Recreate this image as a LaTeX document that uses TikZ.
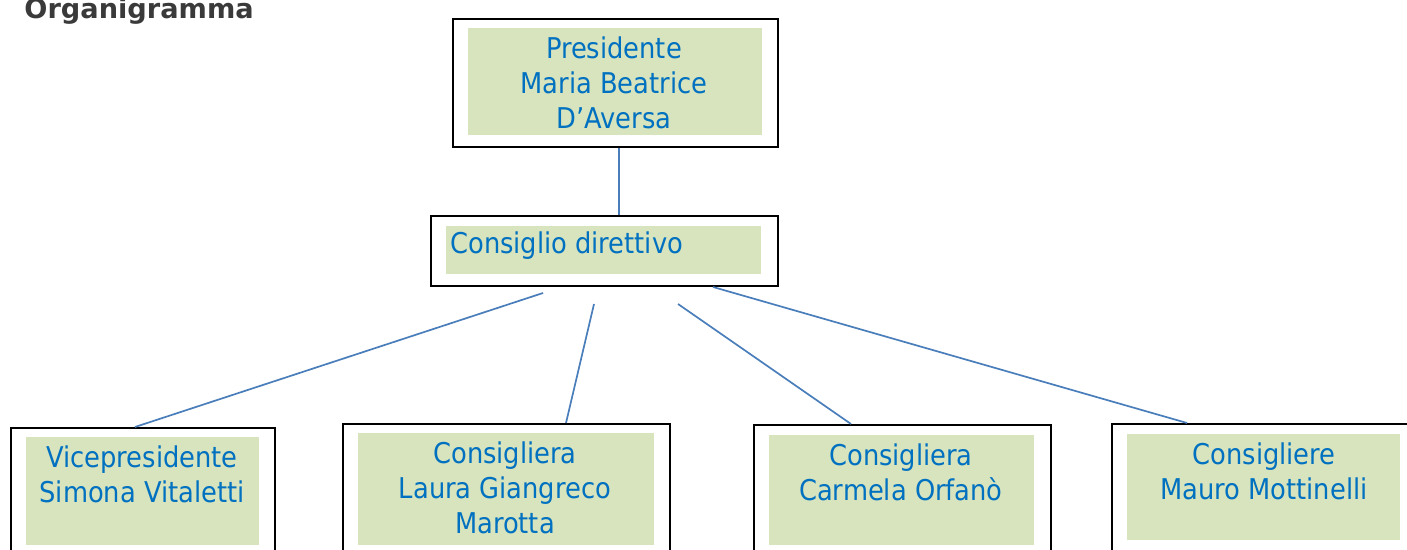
\documentclass[tikz,border=0pt]{standalone}
\usepackage{fontspec}
\setmainfont{DejaVu Sans Condensed}
\newfontfamily\titlefont{DejaVu Sans}
\definecolor{txtblue}{HTML}{0070C0}
\definecolor{boxgreen}{HTML}{D7E4BD}
\definecolor{linkblue}{HTML}{4A7EBB}
\definecolor{titlegray}{HTML}{3A3A3A}
\tikzset{
  outerbox/.style={draw=black, line width=0.8pt, anchor=north west, inner sep=0pt},
  innerbox/.style={fill=boxgreen, inner sep=0pt},
  boxtext/.style={text=txtblue, align=center, inner sep=0pt, font=\fontsize{14.3}{17.5}\selectfont},
  link/.style={draw=linkblue, line width=0.85pt}
}
\begin{document}
\begin{tikzpicture}[x=0.5pt, y=-0.5pt]
\clip (0,0) rectangle (1407,550);
\useasboundingbox (0,0) rectangle (1407,550);
% title
\node[anchor=base west, inner sep=0pt, text=titlegray, font=\titlefont\bfseries\fontsize{13.6}{16}\selectfont] (title) at (24,19) {Organigramma};
% presidente
\node[outerbox, minimum width=162.5pt, minimum height=64pt] (pres) at (452,18) {};
\node[innerbox, minimum width=147pt, minimum height=53.5pt] (presin) at (615,81.5) {};
\node[boxtext] (prestxt) at (614,83) {Presidente\\Maria Beatrice\\D’Aversa};
% consiglio direttivo
\node[outerbox, minimum width=173.5pt, minimum height=35pt] (cons) at (430,215) {};
\node[innerbox, minimum width=157.5pt, minimum height=24pt] (consin) at (603.5,250) {};
\node[boxtext, anchor=west] (constxt) at (450,246) {Consiglio direttivo};
% consiglieri
\node[outerbox, minimum width=132pt, minimum height=80pt] (vp) at (10,427) {};
\node[innerbox, minimum width=116.5pt, minimum height=54pt] (vpin) at (142.5,491) {};
\node[boxtext] (vptxt) at (142,474.5) {Vicepresidente\\Simona Vitaletti};
\node[outerbox, minimum width=163.5pt, minimum height=80pt] (lgm) at (342,423) {};
\node[innerbox, minimum width=148pt, minimum height=56pt] (lgmin) at (506,489) {};
\node[boxtext] (lgmtxt) at (505,488) {Consigliera\\Laura Giangreco\\Marotta};
\node[outerbox, minimum width=148.5pt, minimum height=80pt] (co) at (753,424) {};
\node[innerbox, minimum width=132.5pt, minimum height=55pt] (coin) at (901.5,490) {};
\node[boxtext] (cotxt) at (901,472) {Consigliera\\Carmela Orfanò};
\node[outerbox, minimum width=160pt, minimum height=80pt] (mm) at (1111,423) {};
\node[innerbox, minimum width=136.5pt, minimum height=53pt] (mmin) at (1263.5,487) {};
\node[boxtext] (mmtxt) at (1264,471.5) {Consigliere\\Mauro Mottinelli};
% connectors
\coordinate (d1) at (543,293);
\coordinate (d2) at (594,304);
\coordinate (d3) at (678,304);
\coordinate (d4) at (713,287);
\draw[link] (pres.south -| 619,0) -- (cons.north -| 619,0);
\foreach \s/\e/\x in {d1/vp/135, d2/lgm/566, d3/co/851, d4/mm/1187}
  \draw[link] (\s) -- (\e.north -| \x,0);
\end{tikzpicture}
\end{document}
